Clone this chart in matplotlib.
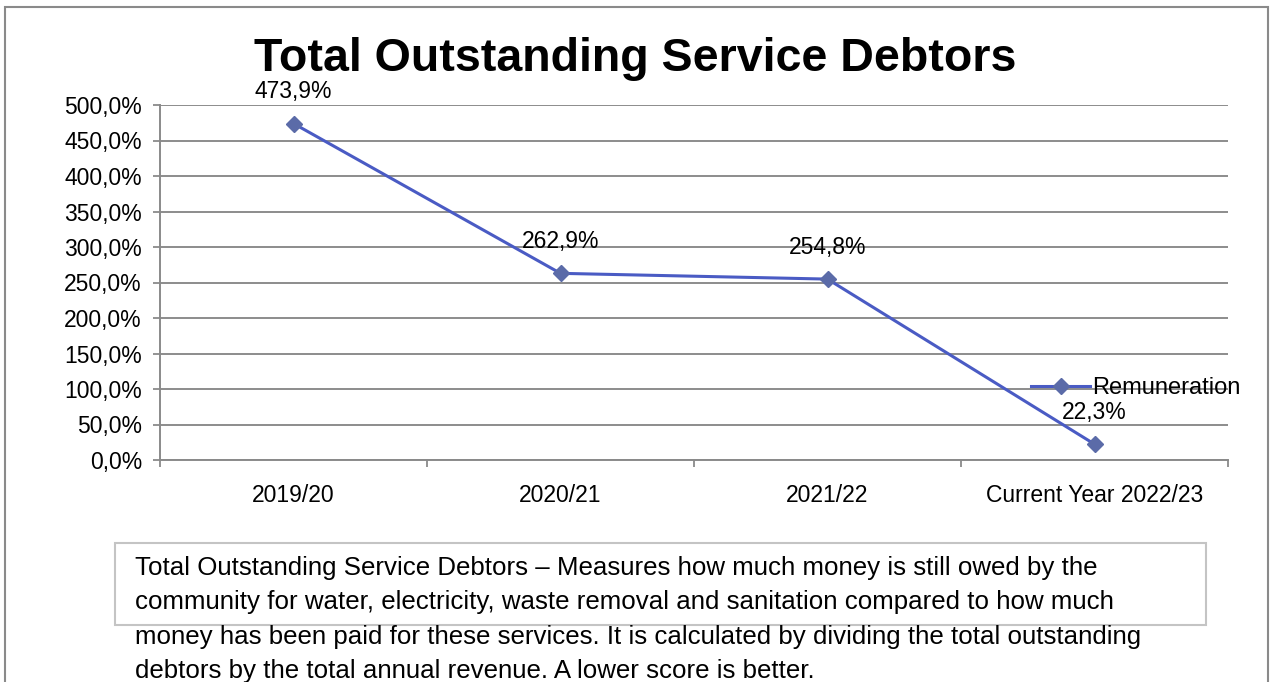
import matplotlib.pyplot as plt
from matplotlib.patches import Rectangle
from matplotlib.lines import Line2D

plt.rcParams['font.family'] = ['Liberation Sans', 'DejaVu Sans']

years = ['2019/20', '2020/21', '2021/22', 'Current Year 2022/23']
debtors = [473.9, 262.9, 254.8, 22.3]
y_ticks = [0, 50, 100, 150, 200, 250, 300, 350, 400, 450, 500]
note = ("Total Outstanding Service Debtors \u2013 Measures how much money is still owed by the\n"
        "community for water, electricity, waste removal and sanitation compared to how much\n"
        "money has been paid for these services. It is calculated by dividing the total outstanding\n"
        "debtors by the total annual revenue. A lower score is better.")

def pct(v):
    return f"{v:.1f}%".replace('.', ',')

fig = plt.figure(figsize=(12.7, 6.82), dpi=100)
W, H = 1270, 682

# outer border of the chart
fig.add_artist(Rectangle((5 / W, -0.01), 1263 / W, 1 - 7 / H + 0.01, transform=fig.transFigure,
                         fill=False, edgecolor='#8a8a8a', lw=1.5))

ax = fig.add_axes([160 / W, 1 - 460 / H, 1068 / W, 355 / H])
x = list(range(len(years)))
ax.plot(x, debtors, color='#4a5bc4', lw=2.2, marker='D', markersize=8,
        markerfacecolor='#5b6ba8', markeredgecolor='#5b6ba8', zorder=3)
for xi, v in zip(x, debtors):
    ax.annotate(pct(v), (xi, v), xytext=(0, 23), textcoords='offset points',
                ha='center', va='center', fontsize=16.5)

ax.set_xlim(-0.5, len(years) - 0.5)
ax.set_ylim(0, 500)
ax.set_yticks(y_ticks)
ax.set_yticklabels([pct(t) for t in y_ticks], fontsize=16.5)
ax.set_xticks(x)
ax.set_xticklabels(years, fontsize=16.5)
ax.set_xticks([i - 0.5 for i in range(len(years) + 1)], minor=True)
ax.tick_params(axis='x', which='major', length=0, pad=17)
ax.tick_params(axis='x', which='minor', length=5, color='#8a8a8a', width=1.3)
ax.tick_params(axis='y', length=5, color='#8a8a8a', width=1.3, pad=8)
ax.grid(axis='y', color='#8c8c8c', lw=1.4)
for s in ['top', 'right']:
    ax.spines[s].set_visible(False)
for s in ['left', 'bottom']:
    ax.spines[s].set_color('#8a8a8a')
    ax.spines[s].set_linewidth(1.4)

handle = Line2D([], [], color='#4a5bc4', lw=2.2, marker='D', markersize=8,
                markerfacecolor='#5b6ba8', markeredgecolor='#5b6ba8')
fig.legend([handle], ['Remuneration'], loc='center left', bbox_to_anchor=(1031 / W, 1 - 388 / H),
           frameon=False, fontsize=17, handlelength=2.5, handletextpad=0.1, borderpad=0,
           borderaxespad=0)

fig.text(635 / W, 1 - 59 / H, 'Total Outstanding Service Debtors', ha='center', va='center',
         fontsize=33.5, fontweight='bold')

# explanatory note below the chart
fig.add_artist(Rectangle((115 / W, 1 - 625 / H), 1091 / W, 82 / H, transform=fig.transFigure,
                         fill=False, edgecolor='#c4c4c4', lw=1.5))
fig.text(135 / W, 1 - 556 / H, note, ha='left', va='top', fontsize=18.6, linespacing=1.55)

fig.savefig('out.png', dpi=100)
